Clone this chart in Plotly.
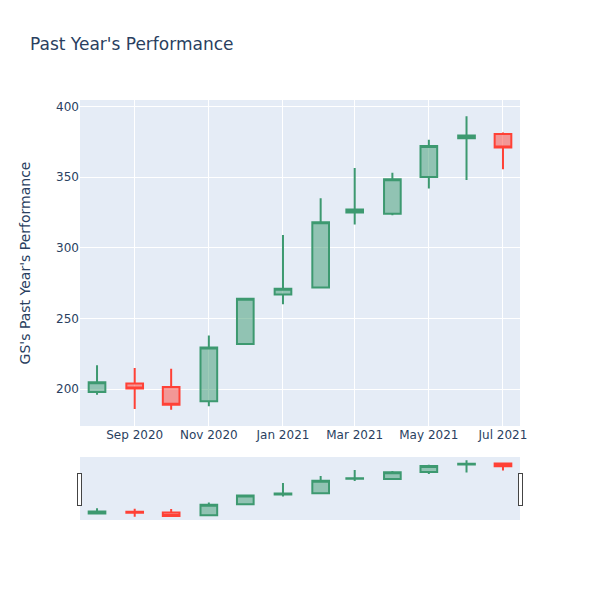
import plotly.graph_objects as go

# monthly candles
DATES = ["2020-08-01", "2020-09-01", "2020-10-01", "2020-11-01", "2020-12-01", "2021-01-01",
         "2021-02-01", "2021-03-01", "2021-04-01", "2021-05-01", "2021-06-01", "2021-07-01"]
OPEN = [198, 204, 201.5, 191.5, 232, 267, 272, 325, 324, 350, 377.5, 380.5]
HIGH = [217, 215, 214.5, 238, 264, 309, 335, 356.5, 353, 376.5, 393, 381.5]
LOW = [196, 186, 185.5, 188, 231.5, 260, 272, 316.5, 323, 342, 348, 355.5]
CLOSE = [205, 200.5, 189, 229.5, 264, 271, 318, 327, 348.5, 372, 379.5, 371]

fig = go.Figure()
fig.add_trace(go.Candlestick(
    x=DATES,
    open=OPEN,
    high=HIGH,
    low=LOW,
    close=CLOSE,
))

# page body has an 8px margin, so pull everything up/left by 8px
fig.update_layout(
    title=dict(text="Past Year's Performance", x=22 / 600, xanchor="left",
               y=1 - 36 / 600, yanchor="middle"),
    yaxis=dict(title=dict(text="GS's Past Year's Performance", standoff=22)),
    font=dict(family="DejaVu Sans"),
    width=600,
    height=600,
    margin=dict(l=72, r=88, t=92, b=88),
)

fig.write_html("out.html")
